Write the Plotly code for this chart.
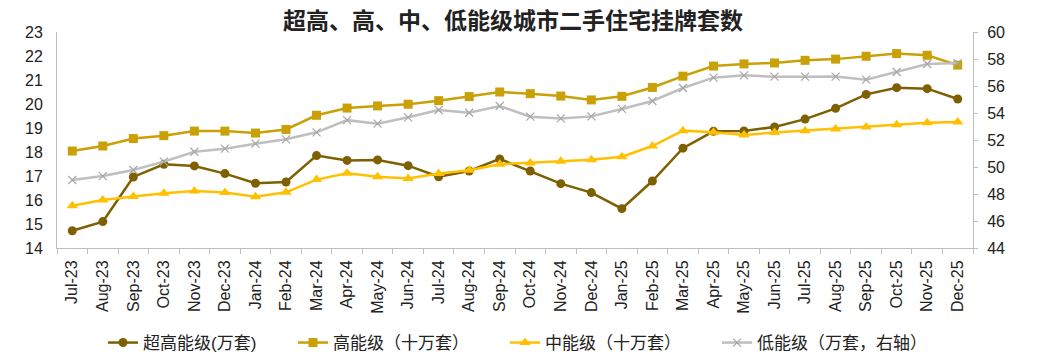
import plotly.graph_objects as go

months = ["Jul-23", "Aug-23", "Sep-23", "Oct-23", "Nov-23", "Dec-23",
          "Jan-24", "Feb-24", "Mar-24", "Apr-24", "May-24", "Jun-24",
          "Jul-24", "Aug-24", "Sep-24", "Oct-24", "Nov-24", "Dec-24",
          "Jan-25", "Feb-25", "Mar-25", "Apr-25", "May-25", "Jun-25",
          "Jul-25", "Aug-25", "Sep-25", "Oct-25", "Nov-25", "Dec-25"]

super_high = [14.72, 15.10, 16.96, 17.49, 17.42, 17.10, 16.70, 16.75, 17.85, 17.65,
              17.67, 17.43, 16.97, 17.21, 17.71, 17.21, 16.68, 16.31, 15.64, 16.79,
              18.16, 18.86, 18.88, 19.04, 19.37, 19.82, 20.40, 20.68, 20.64, 20.21]

high = [18.04, 18.25, 18.56, 18.68, 18.87, 18.87, 18.79, 18.94, 19.53, 19.83,
        19.92, 19.99, 20.14, 20.31, 20.50, 20.43, 20.33, 20.17, 20.32, 20.69,
        21.16, 21.58, 21.67, 21.71, 21.82, 21.87, 21.99, 22.10, 22.03, 21.62]

mid = [15.76, 16.00, 16.15, 16.28, 16.37, 16.31, 16.14, 16.32, 16.85, 17.11,
       16.97, 16.90, 17.10, 17.24, 17.49, 17.54, 17.61, 17.68, 17.80, 18.25,
       18.89, 18.82, 18.71, 18.81, 18.89, 18.96, 19.04, 19.14, 19.22, 19.25]

low = [49.04, 49.33, 49.78, 50.40, 51.13, 51.36, 51.73, 52.05, 52.57, 53.47,
       53.21, 53.68, 54.22, 54.02, 54.52, 53.73, 53.60, 53.75, 54.30, 54.89,
       55.85, 56.62, 56.79, 56.69, 56.69, 56.70, 56.47, 57.04, 57.63, 57.70]

names = ["超高能级(万套)", "高能级（十万套）", "中能级（十万套）", "低能级（万套，右轴）"]

FONT = "Liberation Sans, Arial, Noto Sans CJK SC, sans-serif"

# page body has an 8px margin: figure sized/offset to compensate
W, H = 1032, 356
L, R, T, B = 49, 67, 24, 116
PW, PH = W - L - R, H - T - B


def px_x(page_x):
    return (page_x - 8 - L) / PW


def px_y(page_y):
    return (H - B - (page_y - 8)) / PH


fig = go.Figure()
fig.add_trace(go.Scatter(x=months, y=super_high, name=names[0], mode="lines+markers",
                         line=dict(color="#7F6000", width=2.5), legend="legend",
                         marker=dict(symbol="circle", size=9, color="#7F6000")))
fig.add_trace(go.Scatter(x=months, y=high, name=names[1], mode="lines+markers",
                         line=dict(color="#C9A005", width=2.5), legend="legend2",
                         marker=dict(symbol="square", size=9, color="#C9A005")))
fig.add_trace(go.Scatter(x=months, y=mid, name=names[2], mode="lines+markers",
                         line=dict(color="#FFC000", width=2.5), legend="legend3",
                         marker=dict(symbol="triangle-up", size=10, color="#FFC000")))
fig.add_trace(go.Scatter(x=months, y=low, name=names[3], mode="lines+markers", yaxis="y2",
                         line=dict(color="#BFBFBF", width=2.5), legend="legend4",
                         marker=dict(symbol="x-thin", size=8,
                                     line=dict(color="#A6A6A6", width=1.2), color="#A6A6A6")))

leg_common = dict(orientation="h", yanchor="middle", y=px_y(343), xanchor="left",
                  font=dict(size=17), itemwidth=30, bgcolor="rgba(0,0,0,0)")

fig.update_layout(
    width=W, height=H,
    margin=dict(l=L, r=R, t=T, b=B, autoexpand=False),
    paper_bgcolor="white", plot_bgcolor="white",
    font=dict(family=FONT, size=15, color="#222222"),
    title=dict(text="<b>超高、高、中、低能级城市二手住宅挂牌套数</b>",
               x=px_x(513), xref="paper", xanchor="center",
               y=1 - 13 / H, yref="container", yanchor="middle",
               font=dict(size=23, color="#222222")),
    xaxis=dict(type="category", range=[-0.5, 29.5], tickangle=-90,
               showline=True, linecolor="#BFBFBF", linewidth=1,
               ticks="outside", ticklen=5, tickcolor="#BFBFBF", tickson="boundaries",
               ticklabelstandoff=5,
               showgrid=False, tickfont=dict(size=16), automargin=False),
    yaxis=dict(range=[14, 23], dtick=1, showline=True, linecolor="#BFBFBF",
               linewidth=1, showgrid=False, zeroline=False, ticks="",
               ticklabelstandoff=10, tickfont=dict(size=16), automargin=False),
    yaxis2=dict(range=[44, 60], dtick=2, overlaying="y", side="right",
                showline=True, linecolor="#BFBFBF", linewidth=1, showgrid=False,
                zeroline=False, ticks="outside", ticklen=4, tickcolor="#BFBFBF",
                ticklabelstandoff=6, tickfont=dict(size=16), automargin=False),
    legend=dict(x=px_x(107 - 4), **leg_common),
    legend2=dict(x=px_x(297 - 4), **leg_common),
    legend3=dict(x=px_x(508 - 3), **leg_common),
    legend4=dict(x=px_x(720 - 3), **leg_common),
    showlegend=True,
)

fig.write_html("out.html")
